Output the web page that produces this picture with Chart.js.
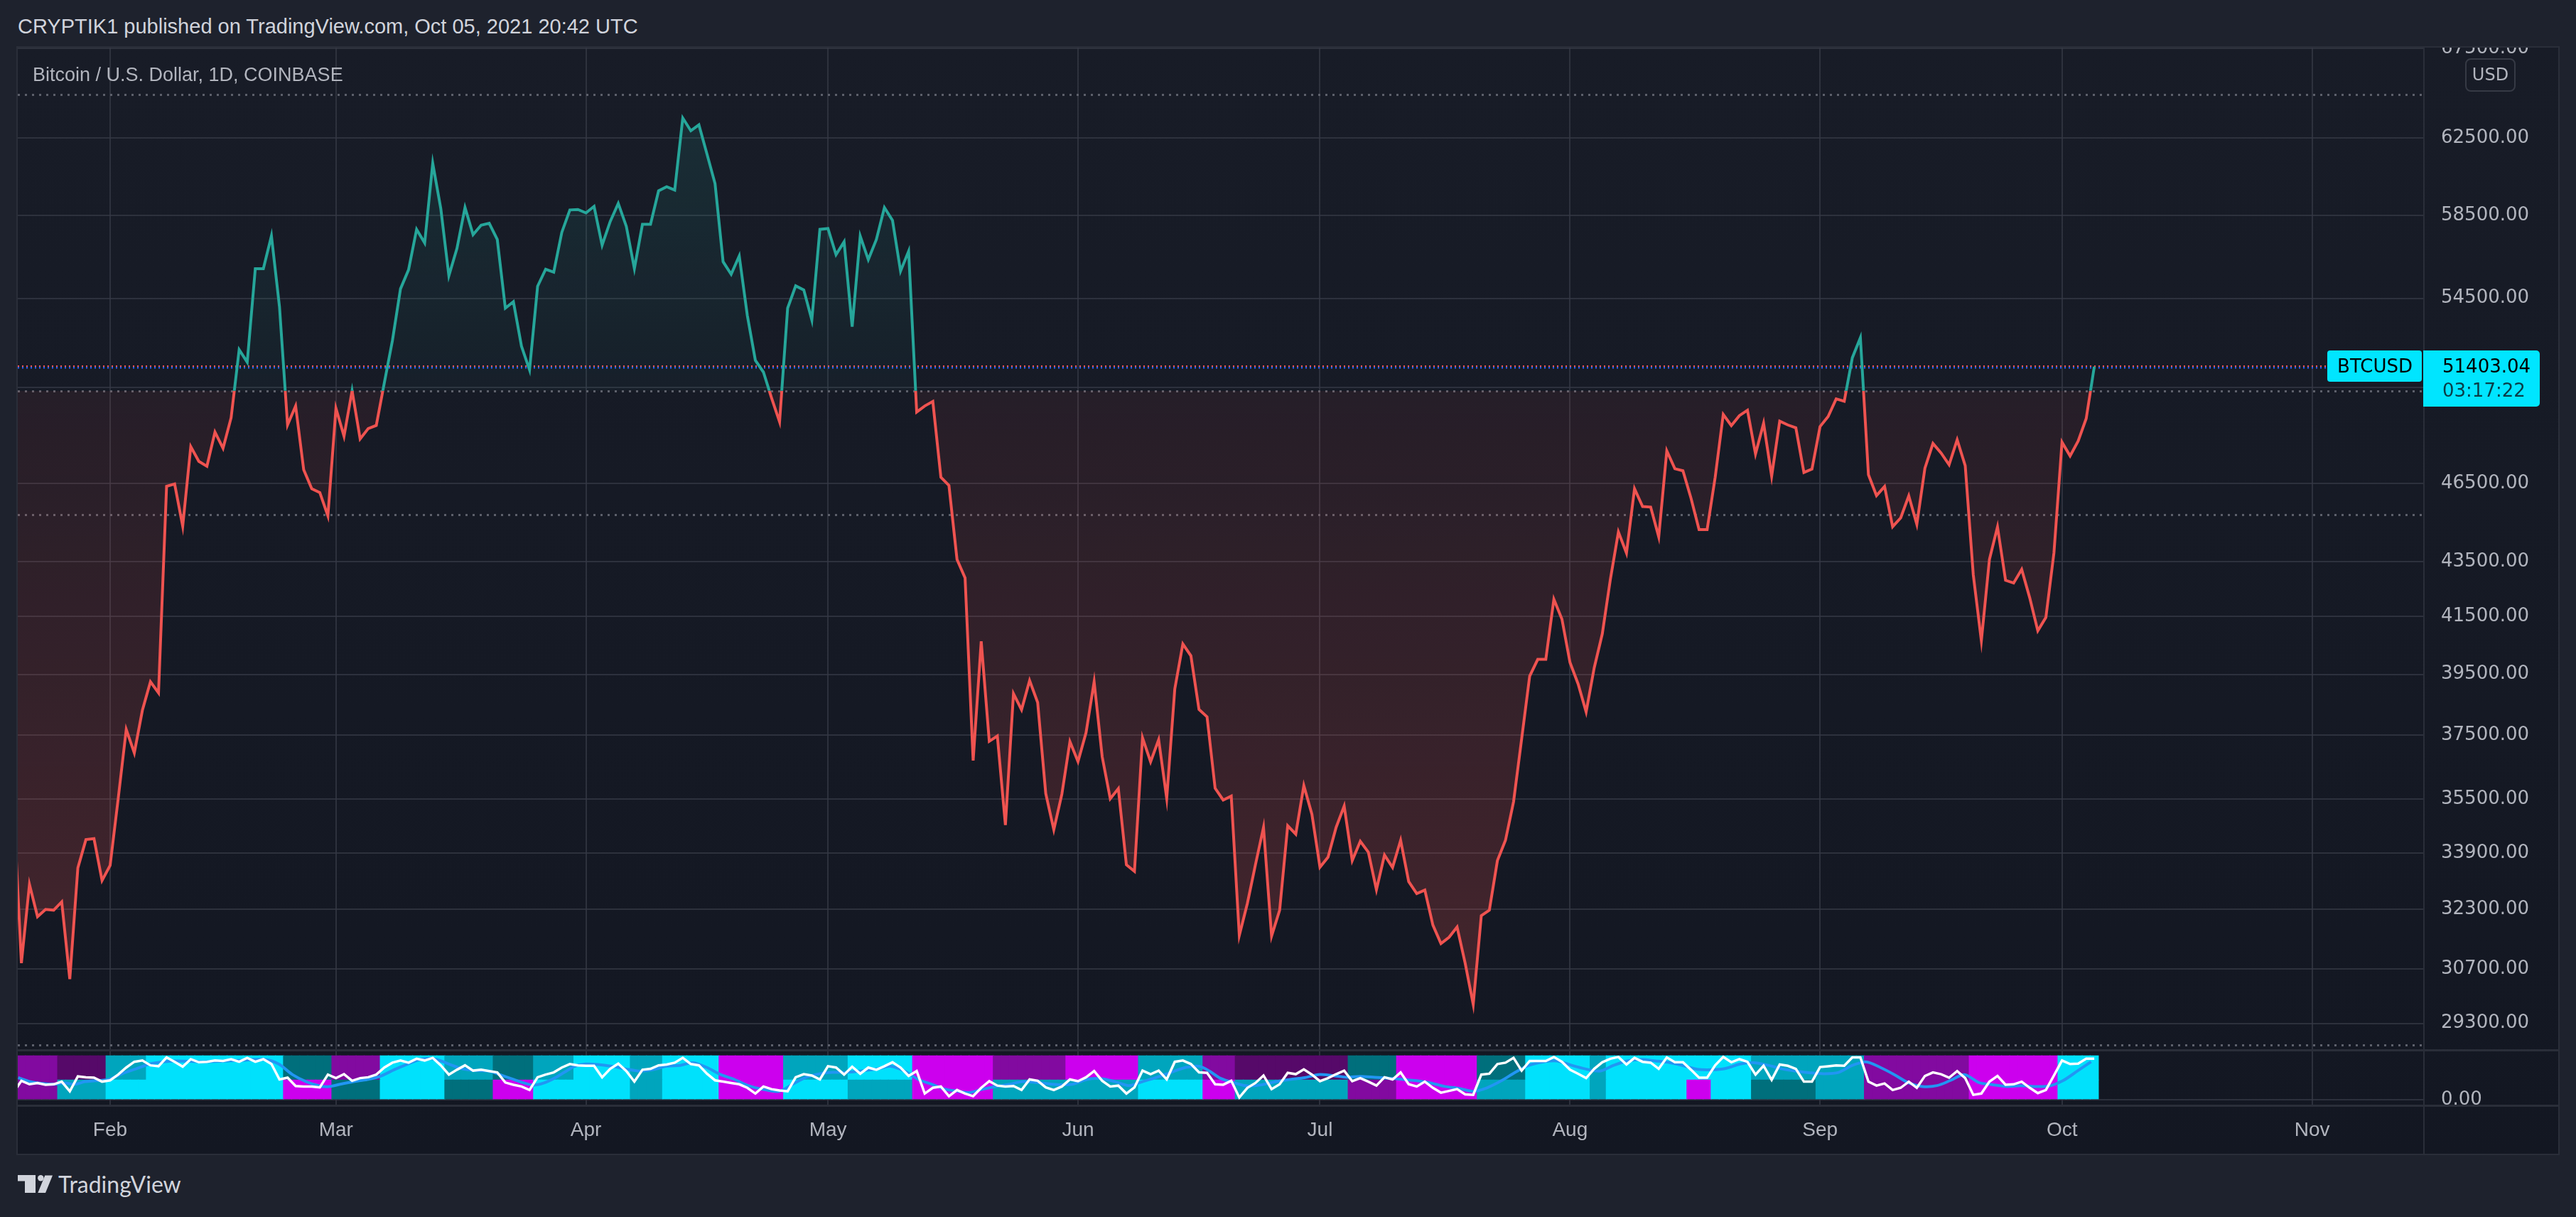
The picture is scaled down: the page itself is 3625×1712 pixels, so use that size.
<!DOCTYPE html>
<html>
<head>
<meta charset="utf-8">
<title>BTCUSD 1D</title>
<script src="https://cdn.jsdelivr.net/npm/chart.js@4.4.1/dist/chart.umd.min.js"></script>
<style>
  html, body { margin: 0; padding: 0; }
  body { width: 3625px; height: 1712px; background: #1e222d; position: relative; overflow: hidden;
         font-family: "Liberation Sans", Arial, sans-serif; }
  #header { position: absolute; left: 25px; top: 23px; font-size: 29px; line-height: 29px; color: #d1d4dc; white-space: nowrap; }
  #frame { position: absolute; left: 23px; top: 65px; width: 3579px; height: 1560px; box-sizing: border-box;
           border: 2px solid #2a2e39; background: linear-gradient(#181c27, #131722); }
  canvas { position: absolute; left: 25px; }
  #price { top: 67px; width: 3575px; height: 1410px; }
  #osc { top: 1479px; width: 3575px; height: 144px; }
  .sep { position: absolute; background: #2a2e39; }
  #legend { position: absolute; left: 46px; top: 92px; font-size: 27px; line-height: 27px; color: #b2b5be; white-space: nowrap; }
  #usd { position: absolute; left: 3469px; top: 82px; width: 71px; height: 47px; box-sizing: border-box; border: 2px solid #363a45;
         border-radius: 8px; color: #b2b5be; font: 24px "DejaVu Sans", sans-serif; line-height: 43px; text-align: center; }
  #brand { position: absolute; left: 25px; top: 1650px; height: 36px; }
  #brand svg { position: absolute; left: 0; top: 3px; }
  #brand span { position: absolute; left: 57px; top: 0; font: 32px Lato, "Open Sans", sans-serif; line-height: 32px; color: #d1d4dc; white-space: nowrap; }
</style>
</head>
<body>
<div id="header">CRYPTIK1 published on TradingView.com, Oct 05, 2021 20:42 UTC</div>
<div id="frame"></div>
<canvas id="price" width="3575" height="1410"></canvas>
<canvas id="osc" width="3575" height="144"></canvas>
<div class="sep" style="left:25px;top:1476px;width:3575px;height:3px"></div>
<div class="sep" style="left:25px;top:1554px;width:3575px;height:3px"></div>
<div class="sep" style="left:3410px;top:1555px;width:2px;height:68px"></div>
<div id="legend">Bitcoin / U.S. Dollar, 1D, COINBASE</div>
<div id="usd">USD</div>
<div id="brand">
  <svg width="50" height="26" viewBox="0 0 50 26">
    <rect x="0" y="0" width="25" height="8.5" fill="#d1d4dc"/>
    <rect x="10" y="0" width="15" height="25" fill="#d1d4dc"/>
    <circle cx="32.3" cy="4.3" r="4.2" fill="#d1d4dc"/>
    <polygon points="38.3,0.5 49,0.5 39,25 28.3,25" fill="#d1d4dc"/>
  </svg>
  <span>TradingView</span>
</div>
<script>
// ---- data (days counted from Jan 1 2021, first close = Jan 20) ----
const firstDay = 19;
const closes = [
  // Jan 20 - Jan 31
  35470, 30850, 33000, 32100, 32300, 32280, 32510, 30430, 33470, 34290, 34320, 33110,
  // Feb
  33540, 35510, 37680, 36930, 38300, 39250, 38880, 46400, 46490, 44840, 48000, 47400, 47200, 48600,
  47930, 49200, 52150, 51600, 55900, 55900, 57490, 54100, 48900, 49700, 47060, 46300, 46150, 45240,
  // Mar
  49600, 48430, 50350, 48320, 48750, 48880, 50700, 52560, 54940, 55840, 57810, 57140, 61170, 58840, 55560, 56870,
  58900, 57550, 58020, 58110, 57310, 54040, 54340, 52310, 51260, 55060, 55870, 55730, 57660, 58780, 58800,
  // Apr
  58630, 58960, 57030, 58200, 59110, 57960, 55900, 58060, 58060, 59750, 59960, 59790, 63590, 62900, 63220,
  61660, 60120, 56230, 55630, 56510, 53710, 51680, 51160, 50050, 49030, 54040, 55080, 54890, 53500, 57810,
  // May
  57850, 56570, 57200, 53190, 57480, 56330, 57310, 58900, 58260, 55780, 56740, 49440, 49700, 49890, 46760, 46430,
  43580, 42900, 36690, 40630, 37300, 37470, 34720, 38850, 38320, 39290, 38560, 35670, 34580, 35650, 37290,
  // Jun
  36660, 37580, 39250, 36810, 35510, 35820, 33560, 33370, 37410, 36650, 37350, 35520, 39010, 40540, 40130,
  38330, 38090, 35830, 35470, 35590, 31590, 32470, 33560, 34650, 31570, 32280, 34700, 34450, 35910, 35040,
  // Jul
  33490, 33780, 34650, 35290, 33680, 34240, 33920, 32850, 33840, 33480, 34270, 33080, 32740, 32840, 31870, 31370,
  31540, 31820, 30850, 29780, 32130, 32280, 33680, 34270, 35420, 37370, 39440, 40010, 40010, 42120, 41410,
  // Aug
  39900, 39180, 38250, 39720, 40890, 42840, 44620, 43820, 46300, 45600, 45580, 44430, 47830, 47100, 47020, 45930,
  44710, 44710, 46760, 49340, 48870, 49290, 49520, 47700, 48970, 46800, 49060, 48900, 48780, 46950, 47090,
  // Sep
  48830, 49250, 50000, 49900, 51790, 52690, 46860, 46030, 46390, 44820, 45160, 46020, 44910, 47120, 48130,
  47740, 47260, 48280, 47220, 43010, 40650, 43580, 44810, 42810, 42710, 43210, 42170, 41000, 41470, 43830,
  // Oct 1 - Oct 5
  48180, 47620, 48230, 49170, 51403.04
];
const symbol = 'BTCUSD';
const countdown = '03:17:22';
const monthStarts = [31, 59, 90, 120, 151, 181, 212, 243, 273, 304];
const monthNames = ['Feb', 'Mar', 'Apr', 'May', 'Jun', 'Jul', 'Aug', 'Sep', 'Oct', 'Nov'];
const priceTicks = [67500, 62500, 58500, 54500, 50500, 46500, 43500, 41500, 39500, 37500, 35500, 33900, 32300, 30700, 29300];
const hiddenTicks = [50500];
const baseLevel = 50350;
const levelLines = [64870, 50350, 45290, 28770];

// oscillator pane: white line per day, blue signal line, heat columns (upper / lower band colour runs)
const oscWhite = [
  16, 43, 35, 38, 34, 35, 41, 19, 53, 51, 50, 41,
  44, 57, 73, 86, 89, 78, 76, 96, 86, 75, 92, 85, 86, 89,
  88, 92, 86, 95, 86, 92, 81, 46, 50, 31, 30, 30, 28, 57,
  49, 58, 43, 49, 51, 57, 73, 84, 89, 84, 93, 89, 95, 78,
  57, 68, 78, 66, 68, 65, 62, 39, 34, 30, 22, 51, 57, 62,
  73, 81, 78, 77, 77, 51, 70, 82, 65, 41, 68, 70, 78, 80,
  84, 95, 81, 78, 59, 44, 41, 38, 35, 27, 14, 30, 24, 21,
  19, 51, 58, 55, 46, 76, 73, 57, 75, 59, 73, 68, 76, 85,
  73, 54, 65, 14, 27, 30, 8, 22, 14, 8, 27, 42, 32, 30,
  31, 22,
  46, 43, 28, 22, 30, 46, 42, 51, 65, 43,
  30, 32, 14, 28, 66, 58, 66, 46, 86, 89,
  81, 62, 61, 35, 34, 43, 5, 27, 38, 55,
  24, 35, 61, 58, 69, 57, 42, 49, 58, 66,
  42, 49, 41, 32, 51, 46, 62, 35, 30, 41,
  27, 16, 20, 24, 12, 11, 57, 59, 81, 84,
  95, 66, 88, 88, 88, 97, 86, 68, 59, 49,
  70, 85, 93, 97, 80, 95, 86, 84, 70, 96,
  85, 85, 68, 50, 50, 78, 97, 85, 92, 86,
  57, 77, 45, 80, 77, 70, 41, 41, 74, 76,
  78, 77, 96, 96, 41, 32, 37, 22, 27, 41,
  27, 54, 62, 58, 50, 65, 49, 11, 14, 41,
  54, 34, 35, 41, 27, 15, 22, 55, 89, 81,
  82, 93, 93
];
const oscBlueDays = [
  19.6, 21.1, 22.4, 24.1, 25.4, 26.6, 27.9, 29.1, 30.8, 32.5, 34.2, 35.9, 37.6, 39.3, 42.6, 46.9, 50.2, 51.9,
  53.6, 55.3, 57, 58.2, 59.5, 61.2, 62.9, 64.6, 66.2, 67.9, 69.6, 71.3, 73, 74.7, 76.4, 78, 79.3, 81, 82.3,
  83.5, 84.8, 86.1, 87.3, 88.6, 89.9, 91.5, 93.2, 94.9, 96.6, 98.3, 100, 101.7, 103.3, 105, 106.7, 108.4,
  110.1, 111.8, 113.9, 115.6, 117.3, 119, 120.6, 122.3, 124, 126.1, 127.8, 129.5, 131.2, 132.9, 134.5,
  136.2, 137.5, 139.2, 140.9, 142.5, 144.2, 146.8, 148.6, 150.3, 152.1, 153.8, 155.6, 157.3, 159, 160.8,
  162.5, 164.3, 166, 167.3, 168.6, 170.4, 172.1, 173.8, 175.6, 177.3, 179.1, 180.8, 182.5, 184.3, 186,
  187.8, 189.5, 191.3, 193, 194.7, 196.5, 198.2, 200, 201.7, 203.5, 205.2, 206.9, 208.7, 210.4, 212.2,
  213.9, 215.7, 217.4, 219.1, 220.9, 222.6, 224.4, 226.1, 227.8, 229.6, 231.3, 233.1, 234.8, 236.6, 238.3,
  240, 241.8, 243.5, 245.3, 247, 248.7, 250.5, 252.2, 254, 255.7, 257.5, 259.2, 260.9, 262.7, 264.4, 266.2,
  267.9, 269.6, 271.4, 273.1, 274.9, 276.6
];
const oscBlueVals = [
  50, 41, 37, 35, 38, 35, 41, 43, 46, 59, 70, 81, 86, 88, 86, 89, 91, 81,
  57, 41, 31, 30, 35, 41, 46, 54, 68, 81, 92, 92, 81, 70, 66, 65, 57, 46, 38,
  33, 38, 49, 62, 76, 81, 80, 76, 70, 65, 68, 76, 78, 84, 73, 57, 46,
  32, 24, 19, 35, 51, 59, 62, 62, 65, 70, 76, 65, 46, 35, 24,
  19, 16, 24, 30, 35, 41, 37, 34, 35, 46, 48, 41, 32, 41, 51,
  62, 73, 76, 65, 49, 38, 31, 34, 41, 46, 50, 57, 55, 51, 53,
  51, 49, 46, 43, 38, 30, 26, 19, 27, 43, 62, 78, 86, 88, 78,
  70, 65, 78, 88, 91, 88, 84, 77, 69, 68, 71, 81, 84, 78, 70,
  65, 61, 59, 62, 78, 86, 73, 57, 38, 30, 32, 44, 57, 39, 34, 30,
  32, 30, 31, 43, 65, 86
];
const heatUpper = [
  ['P', 6], ['Q', 6], ['T', 5], ['C', 17], ['D', 6], ['P', 6], ['C', 8], ['T', 6], ['D', 5], ['T', 5], ['C', 7],
  ['T', 4], ['C', 7], ['M', 8], ['T', 8], ['C', 8], ['M', 10], ['P', 9], ['M', 9], ['T', 8], ['P', 4], ['Q', 14],
  ['D', 6], ['M', 10], ['D', 6], ['C', 8], ['T', 2], ['C', 18], ['T', 8], ['T', 6], ['P', 13], ['M', 11], ['C', 5]
];
const heatLower = [
  ['P', 6], ['T', 6], ['C', 22], ['M', 6], ['D', 6], ['C', 8], ['D', 6], ['M', 5], ['C', 12], ['T', 4], ['C', 7],
  ['M', 8], ['C', 8], ['T', 8], ['M', 10], ['T', 9], ['T', 9], ['C', 8], ['M', 4], ['T', 14], ['P', 6], ['M', 10],
  ['T', 6], ['C', 8], ['T', 2], ['C', 10], ['M', 3], ['C', 5], ['D', 8], ['T', 6], ['P', 13], ['M', 11], ['C', 5]
];

// ---- view / style ----
const xMin = 19.55, xMax = 317.87;
const yMin = 28640, yMax = 67540;
const oscMin = -12.9, oscMax = 109.7;
const heatBands = [45, 55];
const heatPalette = { C: '#00e1fc', T: '#00a5bd', D: '#006f7c', M: '#cc00ee', P: '#820aa0', Q: '#560969' };
const gridColor = 'rgba(54,58,69,0.75)';
const axisFont = { family: '"DejaVu Sans", sans-serif', size: 26 };
const lastClose = closes[closes.length - 1];

const pricePts = closes.map((v, i) => ({ x: firstDay + i, y: v }));

function fillGrad(chart, side) {
  const a = chart.chartArea;
  if (!a) return 'transparent';
  const by = chart.scales.y.getPixelForValue(baseLevel);
  let g;
  if (side === 'above') {
    g = chart.ctx.createLinearGradient(0, a.top, 0, by);
    g.addColorStop(0, 'rgba(38,166,154,0.16)');
    g.addColorStop(1, 'rgba(38,166,154,0.04)');
  } else {
    g = chart.ctx.createLinearGradient(0, by, 0, a.bottom);
    g.addColorStop(0, 'rgba(239,83,80,0.07)');
    g.addColorStop(1, 'rgba(239,83,80,0.24)');
  }
  return g;
}

// green part of the line only above the base level, red part only below
const baselineClip = {
  id: 'baselineClip',
  beforeDatasetDraw(chart, args) {
    const side = chart.data.datasets[args.index].side;
    const { ctx, chartArea: a } = chart;
    const by = chart.scales.y.getPixelForValue(baseLevel);
    ctx.save();
    ctx.beginPath();
    if (side === 'above') ctx.rect(a.left, a.top - 10, a.right - a.left, by - a.top + 10);
    else ctx.rect(a.left, by, a.right - a.left, a.bottom - by + 10);
    ctx.clip();
  },
  afterDatasetDraw(chart) {
    chart.ctx.restore();
  }
};

const priceMarks = {
  id: 'priceMarks',
  beforeDatasetsDraw(chart) {
    const { ctx, chartArea: a } = chart;
    const y = chart.scales.y;
    ctx.save();
    ctx.lineWidth = 3;
    ctx.setLineDash([3, 7]);
    ctx.strokeStyle = '#5d606b';
    levelLines.forEach(v => {
      const py = Math.round(y.getPixelForValue(v)) + 0.5;
      ctx.beginPath(); ctx.moveTo(a.left, py); ctx.lineTo(a.right, py); ctx.stroke();
    });
    const ly = Math.round(y.getPixelForValue(lastClose));
    ctx.setLineDash([2, 4]);
    ctx.lineWidth = 2;
    ctx.strokeStyle = '#ef5350';
    ctx.beginPath(); ctx.moveTo(a.left, ly - 1); ctx.lineTo(a.right - 136, ly - 1); ctx.stroke();
    ctx.lineWidth = 2.5;
    ctx.strokeStyle = '#2962ff';
    ctx.beginPath(); ctx.moveTo(a.left, ly + 1.25); ctx.lineTo(a.right - 136, ly + 1.25); ctx.stroke();
    ctx.restore();
  },
  afterDraw(chart) {
    const { ctx, chartArea: a } = chart;
    const ly = Math.round(chart.scales.y.getPixelForValue(lastClose));
    ctx.save();
    ctx.fillStyle = '#00e5ff';
    ctx.beginPath(); ctx.roundRect(a.right - 136, ly - 23, 133, 44, 4); ctx.fill();
    ctx.beginPath(); ctx.roundRect(a.right - 1, ly - 23, 164, 79, [0, 5, 5, 0]); ctx.fill();
    ctx.font = '26px "DejaVu Sans", sans-serif';
    ctx.textBaseline = 'middle';
    ctx.fillStyle = '#000000';
    ctx.textAlign = 'center';
    ctx.fillText(symbol, a.right - 69, ly + 1);
    ctx.textAlign = 'left';
    ctx.fillText(lastClose.toFixed(2), a.right + 26, ly + 1);
    ctx.fillStyle = '#0a3d48';
    ctx.fillText(countdown, a.right + 26, ly + 35);
    ctx.restore();
  }
};

new Chart(document.getElementById('price'), {
  type: 'line',
  data: {
    datasets: [
      { side: 'above', data: pricePts, borderColor: '#26a69a', borderWidth: 4, pointRadius: 0, tension: 0,
        backgroundColor: c => fillGrad(c.chart, 'above'), fill: { target: { value: baseLevel }, below: 'transparent' } },
      { side: 'below', data: pricePts, borderColor: '#ef5350', borderWidth: 4, pointRadius: 0, tension: 0,
        backgroundColor: c => fillGrad(c.chart, 'below'), fill: { target: { value: baseLevel }, above: 'transparent' } }
    ]
  },
  options: {
    responsive: false, animation: false, events: [], devicePixelRatio: 1,
    layout: { padding: 0 },
    plugins: { legend: { display: false }, tooltip: { enabled: false } },
    scales: {
      x: {
        type: 'linear', min: xMin, max: xMax, offset: false,
        afterBuildTicks: s => { s.ticks = monthStarts.map(v => ({ value: v })); },
        afterFit: s => { s.height = 0; s.paddingLeft = 0; s.paddingRight = 0; },
        ticks: { display: false },
        grid: { color: gridColor, lineWidth: 2, drawTicks: false },
        border: { display: false }
      },
      y: {
        type: 'logarithmic', position: 'right', min: yMin, max: yMax,
        afterBuildTicks: s => { s.ticks = priceTicks.map(v => ({ value: v })); },
        afterFit: s => { s.width = 189; s.paddingTop = 0; s.paddingBottom = 0; },
        ticks: { autoSkip: false, padding: 24, color: '#b2b5be', font: axisFont,
                 callback: v => hiddenTicks.includes(v) ? '' : v.toFixed(2) },
        grid: { color: gridColor, lineWidth: 2, drawTicks: false },
        border: { display: true, color: '#2a2e39', width: 2 }
      }
    }
  },
  plugins: [baselineClip, priceMarks]
});

function expandRuns(runs) {
  const out = [];
  runs.forEach(([code, n]) => { for (let k = 0; k < n; k++) out.push(heatPalette[code]); });
  return out;
}

const whitePts = oscWhite.map((v, i) => ({ x: firstDay + i, y: v }));
const bluePts = oscBlueDays.map((d, i) => ({ x: d, y: oscBlueVals[i] }));
const lowerPts = closes.map((_, i) => ({ x: firstDay + i, y: heatBands[0] }));
const upperPts = closes.map((_, i) => ({ x: firstDay + i, y: heatBands[1] }));

new Chart(document.getElementById('osc'), {
  type: 'line',
  data: {
    datasets: [
      { data: whitePts, borderColor: '#ffffff', borderWidth: 3.5, pointRadius: 0, tension: 0, order: 0 },
      { data: bluePts, borderColor: '#2196f3', borderWidth: 4, pointRadius: 0, tension: 0.3, order: 1 },
      { type: 'bar', data: lowerPts, backgroundColor: expandRuns(heatLower), stack: 'heat', barThickness: 12, borderWidth: 0, order: 2 },
      { type: 'bar', data: upperPts, backgroundColor: expandRuns(heatUpper), stack: 'heat', barThickness: 12, borderWidth: 0, order: 2 }
    ]
  },
  options: {
    responsive: false, animation: false, events: [], devicePixelRatio: 1,
    layout: { padding: 0 },
    plugins: { legend: { display: false }, tooltip: { enabled: false } },
    scales: {
      x: {
        type: 'linear', min: xMin, max: xMax, offset: false,
        afterBuildTicks: s => { s.ticks = monthStarts.map(v => ({ value: v })); },
        afterFit: s => { s.height = 68; s.paddingLeft = 0; s.paddingRight = 0; },
        ticks: { autoSkip: false, maxRotation: 0, padding: 18, color: '#b2b5be',
                 font: { family: '"Liberation Sans", Arial, sans-serif', size: 28 },
                 callback: v => monthNames[monthStarts.indexOf(v)] },
        grid: { color: gridColor, lineWidth: 2, drawTicks: false, offset: false },
        border: { display: false }
      },
      y: {
        position: 'right', min: oscMin, max: oscMax,
        afterBuildTicks: s => { s.ticks = [{ value: 0 }]; },
        afterFit: s => { s.width = 189; s.paddingTop = 0; s.paddingBottom = 0; },
        ticks: { padding: 24, color: '#b2b5be', font: axisFont, callback: v => v.toFixed(2) },
        grid: { color: gridColor, lineWidth: 2, drawTicks: false },
        border: { display: true, color: '#2a2e39', width: 2 }
      }
    }
  }
});
</script>
</body>
</html>
